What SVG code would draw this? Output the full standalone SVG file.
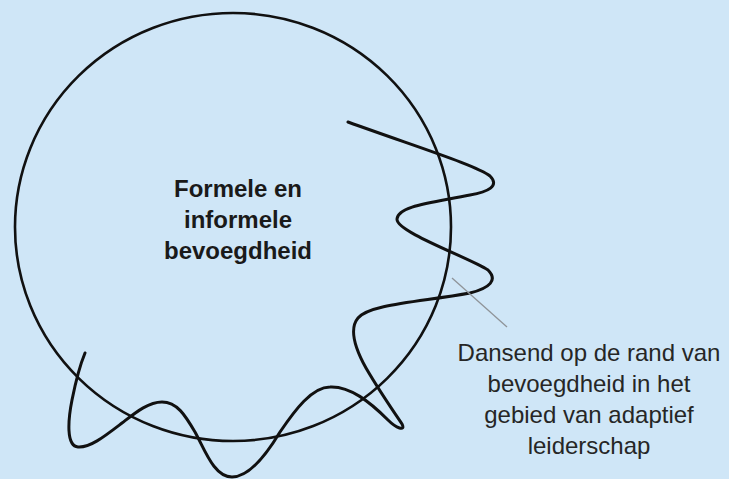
<svg xmlns="http://www.w3.org/2000/svg" width="729" height="479" viewBox="0 0 729 479">
  <style>
    .bg { fill: #cfe6f7; }
    .ring { fill: none; stroke: #111; stroke-width: 2.6; }
    .wave { fill: none; stroke: #111; stroke-width: 3; stroke-linecap: round; stroke-linejoin: round; }
    .leader { fill: none; stroke: #8f9499; stroke-width: 1.3; }
    .title { font-family: "Liberation Sans", Arial, sans-serif; font-size: 24px; font-weight: bold; fill: #1a1a1a; text-anchor: middle; }
    .note { font-family: "Liberation Sans", Arial, sans-serif; font-size: 24px; fill: #262626; text-anchor: middle; }
  </style>

  <rect class="bg" x="0" y="0" width="729" height="479"/>

  <!-- Area of formal and informal authority -->
  <g id="authority">
    <ellipse class="ring" cx="233" cy="227" rx="218" ry="214"/>
    <text class="title" x="238" y="197">Formele en</text>
    <text class="title" x="238" y="228">informele</text>
    <text class="title" x="238" y="259">bevoegdheid</text>
  </g>

  <!-- Line dancing across the edge of the circle -->
  <g id="dance">
    <path class="wave" d="M348,122
      C 420,148 478,166 490,176
      C 500,186 488,192 470,195
      C 430,203 398,206 397,219
      C 396,232 470,258 488,270
      C 498,280 490,288 470,293
      C 420,302 370,304 358,318
      C 348,330 356,350 366,368
      C 380,392 398,418 402,424
      C 406,432 396,428 388,420
      C 370,402 350,386 330,387
      C 312,387 295,410 280,432
      C 268,452 250,477 232,477
      C 214,477 205,450 195,432
      C 185,415 177,402 162,402
      C 148,402 135,413 122,423
      C 105,436 90,448 78,447
      C 66,446 68,420 72,400
      C 75,385 80,365 85,353"/>
  </g>

  <!-- Annotation -->
  <g id="annotation">
    <text class="note" x="589" y="361">Dansend op de rand van</text>
    <text class="note" x="589" y="392">bevoegdheid in het</text>
    <text class="note" x="589" y="423">gebied van adaptief</text>
    <text class="note" x="589" y="454">leiderschap</text>
  </g>

  <g id="connectors">
    <line class="leader" x1="452" y1="278" x2="507" y2="327"/>
  </g>
</svg>
